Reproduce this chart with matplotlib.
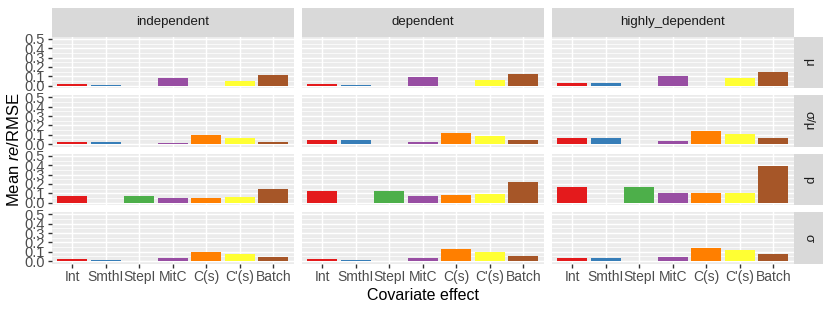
import numpy as np
import matplotlib
matplotlib.use("Agg")
import matplotlib.pyplot as plt

plt.rcParams['font.family'] = ['Liberation Sans', 'DejaVu Sans']
plt.rcParams['mathtext.fontset'] = 'custom'
plt.rcParams['mathtext.rm'] = 'Liberation Sans'
plt.rcParams['mathtext.it'] = 'Liberation Sans:italic'

nan = np.nan

categories = ["Int", "SmthI", "StepI", "MitC", "C(s)", "C'(s)", "Batch"]
bar_colors = ["#E41A1C", "#377EB8", "#4DAF4A", "#984EA3", "#FF7F00", "#FFFF33", "#A65628"]
col_labels = ["independent", "dependent", "highly_dependent"]
row_labels = ["μ", "σ/μ", "p", "σ"]

# one list per column (independent, dependent, highly_dependent)
mu_err = [
    [0.020, 0.012, nan, 0.080, nan, 0.045, 0.110],
    [0.020, 0.012, nan, 0.093, nan, 0.065, 0.125],
    [0.030, 0.030, nan, 0.105, nan, 0.087, 0.148],
]
cv_err = [
    [0.028, 0.028, nan, 0.012, 0.097, 0.068, 0.028],
    [0.040, 0.040, nan, 0.020, 0.122, 0.083, 0.043],
    [0.062, 0.062, nan, 0.036, 0.140, 0.112, 0.062],
]
p_err = [
    [0.072, nan, 0.072, 0.047, 0.047, 0.065, 0.147],
    [0.122, nan, 0.122, 0.072, 0.078, 0.093, 0.218],
    [0.170, nan, 0.170, 0.104, 0.100, 0.100, 0.390],
]
sigma_err = [
    [0.018, 0.010, nan, 0.032, 0.100, 0.078, 0.040],
    [0.018, 0.015, nan, 0.032, 0.130, 0.093, 0.060],
    [0.030, 0.030, nan, 0.043, 0.140, 0.122, 0.075],
]
rows = [mu_err, cv_err, p_err, sigma_err]

W, H = 830, 312
fig = plt.figure(figsize=(W / 100, H / 100), dpi=100)


def px_axes(x0, y0, w, h):
    # pixel box (top-left origin) -> figure axes
    return fig.add_axes([x0 / W, 1 - (y0 + h) / H, w / W, h / H])


left0, pw, gap_x = 52, 241.5, 8.5
top0, ph, gap_y = 36.5, 51.5, 7
x = np.arange(len(categories))

for r, data in enumerate(rows):
    for c in range(3):
        ax = px_axes(left0 + c * (pw + gap_x), top0 + r * (ph + gap_y), pw, ph)
        ax.set_facecolor("#EBEBEB")
        ax.bar(x, data[c], width=0.9, color=bar_colors, zorder=3)
        ax.set_xlim(-0.6, len(categories) - 0.4)
        ax.set_ylim(-0.025, 0.525)
        ax.set_yticks(np.arange(0, 0.51, 0.1))
        ax.set_yticks(np.arange(0.05, 0.51, 0.1), minor=True)
        ax.set_xticks(x)
        ax.grid(which="major", color="white", linewidth=1.07, zorder=1)
        ax.grid(which="minor", axis="y", color="white", linewidth=0.53, zorder=1)
        for s in ax.spines.values():
            s.set_visible(False)
        ax.tick_params(which="major", color="#333333", length=3, width=1.0,
                       labelcolor="#4D4D4D", labelsize=10, pad=2)
        ax.tick_params(which="minor", length=0)
        if c == 0:
            ax.set_yticklabels(["0.0", "0.1", "0.2", "0.3", "0.4", "0.5"], fontsize=10.5)
        else:
            ax.tick_params(axis="y", length=0, labelleft=False)
        if r == len(rows) - 1:
            ax.set_xticklabels(categories)
        else:
            ax.tick_params(axis="x", length=0, labelbottom=False)

        if r == 0:
            sax = px_axes(left0 + c * (pw + gap_x), 7.5, pw, top0 - 7.5)
            sax.set_facecolor("#D9D9D9")
            sax.set_xticks([]); sax.set_yticks([])
            for s in sax.spines.values():
                s.set_visible(False)
            sax.text(0.5, 0.5, col_labels[c], ha="center", va="center",
                     fontsize=9.5, color="#1A1A1A", transform=sax.transAxes)
        if c == 2:
            sax = px_axes(793.5, top0 + r * (ph + gap_y), 29, ph)
            sax.set_facecolor("#D9D9D9")
            sax.set_xticks([]); sax.set_yticks([])
            for s in sax.spines.values():
                s.set_visible(False)
            sax.text(0.5, 0.5, row_labels[r], ha="center", va="center", rotation=-90,
                     fontsize=9.5, color="#1A1A1A", transform=sax.transAxes)

fig.text(14 / W, 1 - 150 / H, r"Mean $\it{re}$/RMSE", rotation=90,
         ha="center", va="center", fontsize=12, color="black")
fig.text((left0 + (3 * pw + 2 * gap_x) / 2) / W, 1 - 296 / H, "Covariate effect",
         ha="center", va="center", fontsize=11.5, color="black")

fig.savefig("out.png", dpi=100)
